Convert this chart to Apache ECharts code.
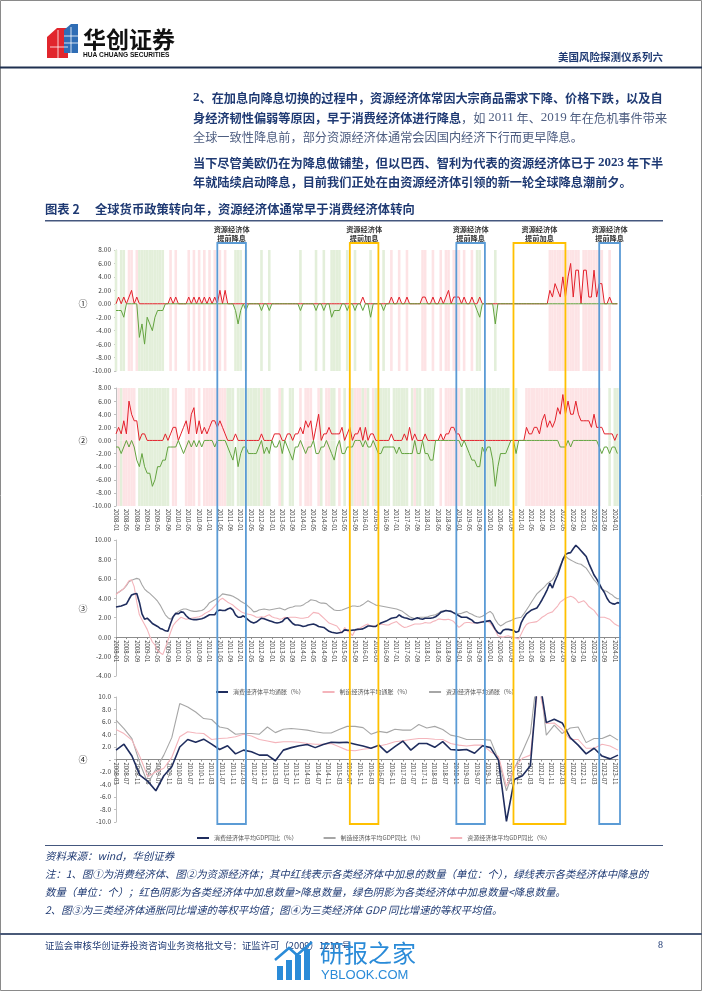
<!DOCTYPE html>
<html><head><meta charset="utf-8">
<script src="https://cdn.jsdelivr.net/npm/echarts@6/dist/echarts.min.js"></script>
<style>html,body{margin:0;padding:0;background:#fff}#c{width:702px;height:991px}</style>
</head><body><div id="c"></div>
<script>
// ---------- categories ----------
function monthSeq(y, m, n) { const out = []; for (let i = 0; i < n; i++) { out.push(y + '-' + String(m).padStart(2, '0')); m++; if (m > 12) { m = 1; y++; } } return out; }
const months = monthSeq(2008, 1, 195);      // 2008-01 .. 2024-03
const gdpMonths = monthSeq(2008, 3, 190);   // 2008-03 .. 2023-12

// ---------- panel ①: consumer economies, number of hikes / cuts ----------
const hikeConsumer = [
0,1,0,1,0,1,2,0,1,0, 0,0,0,0,0,0,0,0,0,0, 0,1,0,1,0,0,0,0,1,0, 1,0,1,0,1,0,1,0,1,0,
2,0,2,0,0,0,0,0,0,0, 0,0,0,0,0,0,0,0,0,0, 0,0,0,0,0,0,0,0,0,0, 0,0,0,0,0,0,0,0,0,0,
0,0,0,0,0,0,0,0,0,0, 0,0,0,0,0,1,0,0,0,0, 0,0,0,0,0,0,1,0,0,1, 0,0,1,0,0,0,0,0,1,1,
0,0,1,0,0,1,0,1,2,0, 1,1,1,0,1,0,0,1,0,0, 1,0,0,0,0,0,0,0,0,0, 0,0,0,0,0,0,0,0,0,0,
0,0,0,0,0,0,0,2,1,3, 2,1,4,1,4,6,1,5,5,0, 5,5,1,1,5,1,3,3,0,0, 1,0,0,0];
const cutConsumer = [
-1,-1,-1,-2,0,0,0,0,0,-5, -3,-6,-2,-3,-4,-2,-1,-1,-1,0, 0,0,0,0,0,0,0,0,0,0, 0,0,0,0,0,0,0,0,0,0,
0,0,0,0,0,0,-1,-3,-1,0, -1,0,0,0,0,0,-1,0,0,-1, 0,0,0,0,0,0,0,0,0,0, 0,-1,0,0,0,0,0,-1,0,0,
-1,0,0,-2,-1,-1,-1,0,0,-1, 0,0,-1,0,0,-1,0,0,-2,0, 0,0,0,-1,0,0,0,0,0,0, 0,0,0,0,0,0,0,0,0,0,
0,0,0,0,0,0,0,0,0,0, 0,0,0,0,0,0,0,0,0,-1, -2,0,0,0,0,0,-3,0,0,0, 0,0,0,0,0,0,0,0,0,0,
0,0,0,0,0,0,0,0,0,0, 0,0,0,0,0,0,0,0,0,0, 0,0,0,0,0,0,0,0,0,0, 0,0,0,0];

// ---------- panel ②: resource economies, number of hikes / cuts ----------
const hikeResource = [
1,2,1,3,1,6,4,3,3,0, 1,1,0,0,0,0,0,0,0,1, 0,1,2,2,0,1,2,3,1,4, 5,1,3,1,2,1,2,3,3,2,
3,2,1,0,0,0,1,0,0,0, 0,0,0,0,0,0,1,0,0,0, 0,1,1,1,0,0,1,1,0,1, 1,2,1,3,2,3,0,2,4,0,
1,1,2,1,1,1,1,2,0,1, 2,0,1,1,2,0,2,0,1,1, 0,0,0,0,0,0,1,0,0,0, 0,1,0,2,0,1,0,0,0,1,
0,0,0,0,0,1,0,1,1,2, 2,1,1,0,0,0,0,0,0,0, 0,0,0,0,0,0,0,0,0,0, 0,0,0,0,0,0,0,0,2,1,
1,2,2,1,3,4,2,3,2,3, 5,4,7,4,6,4,4,6,4,3, 3,3,3,2,4,2,2,2,1,1, 1,1,0,1];
const cutResource = [
-1,-1,-2,-1,0,-1,0,-1,-3,-4, -2,-4,-5,-5,-7,-6,-4,-4,-3,-3, -1,-1,-1,-1,0,-1,-2,-1,0,-1, 0,-1,0,-1,0,0,0,0,-1,0,
0,0,0,-1,-2,-3,-1,-4,-2,-1, -1,-2,-2,-2,-2,-1,0,-2,-1,-2, 0,-1,-1,0,-2,0,-1,-2,-3,-1, -1,0,-1,-2,-1,-1,0,-2,-2,-1,
-1,0,-1,-2,-3,-1,0,-2,-2,-1, -1,-1,0,0,0,-1,0,-1,-1,0, -1,-2,-2,-1,-1,-1,-1,-1,-2,-1, -2,-2,-2,-2,-2,0,-2,-2,0,-2,
-2,-3,-3,0,0,0,0,0,0,0, 0,0,0,-1,0,-1,-2,-3,-3,-4, -4,-1,-2,-1,-1,-3,-7,-4,-2,-2, -2,-1,0,0,-2,0,0,0,0,0,
0,0,0,0,0,0,0,0,0,0, 0,-1,-1,-1,0,-1,0,0,0,0, 0,0,0,0,0,0,-1,-2,-1,-1, -2,-1,-1,-2];

// ---------- panel ③: average inflation (%) ----------
const cpiConsumer = [
3.1,3.15,3.2,3.3,3.4,3.9,4.35,4.45,4.5,3.6, 2.4,1.85,1.95,1.7,1.4,1.25,1.1,0.9,0.8,0.65,
0.6,1.4,2.1,2.45,2.4,2.6,2.55,2.2,1.95,1.85, 1.8,1.8,1.85,1.9,2.0,2.15,2.3,2.3,2.3,2.7,
2.8,2.75,2.75,2.9,3.0,2.8,2.3,2.05,2.05,2.2, 2.0,1.75,1.55,1.45,1.55,1.75,1.95,1.9,1.8,1.7,
1.6,1.5,1.45,1.5,1.6,1.9,2.0,1.7,1.4,1.25, 1.25,1.2,1.1,1.15,1.25,1.3,1.35,1.25,1.1,1.05,
1.0,0.8,0.6,0.5,0.45,0.4,0.45,0.5,0.75,0.72, 0.7,0.72,0.75,0.8,0.82,0.85,1.0,1.15,1.15,1.1,
1.1,1.3,1.45,1.55,1.65,1.8,1.95,2.0,2.05,2.3, 2.1,2.0,1.95,1.85,1.8,1.9,2.0,1.9,1.85,1.95,
1.95,1.95,2.0,2.1,2.3,2.55,2.65,2.75,2.7,2.65, 2.5,2.35,2.2,2.05,2.05,2.05,1.9,1.75,1.5,1.45,
1.5,1.55,1.6,1.65,1.7,1.3,0.8,0.45,0.35,0.7, 0.8,0.8,0.75,0.7,0.5,0.6,1.5,2.0,2.4,2.6,
2.8,2.9,3.0,3.4,3.85,4.35,4.9,5.55,5.05,5.8, 6.4,7.2,8.0,8.5,8.65,8.7,9.1,9.45,9.2,8.9,
8.6,8.3,7.6,7.0,6.4,6.0,5.5,5.0,4.6,4.0, 3.6,3.45,3.4,3.55,3.5];
const cpiManufacturing = [
4.35,4.65,4.8,5.0,5.4,5.8,5.9,5.2,3.6,2.3, 1.8,1.3,0.8,0.1,-0.5,-0.8,-1.4,-1.6,-1.8,-1.1,
-0.3,0.5,1.2,1.55,1.8,2.05,1.95,1.85,1.9,1.95, 2.0,2.05,2.1,2.2,2.4,2.55,2.7,2.9,3.2,3.5,
3.85,4.0,3.8,3.6,3.45,3.3,3.05,2.85,2.65,2.5, 2.4,2.35,2.3,2.2,2.05,2.05,2.1,2.05,2.2,2.3,
2.1,2.0,1.95,1.85,1.9,2.05,2.0,2.05,2.05,2.05, 2.0,1.95,1.95,2.0,2.05,2.3,2.55,2.5,2.45,2.2,
1.95,1.7,1.45,1.35,1.25,1.15,0.8,0.4,1.0,0.6, 0.5,0.15,0.7,0.85,0.95,1.1,1.25,1.35,1.1,1.15,
1.15,1.25,1.35,1.3,1.25,1.25,1.4,1.5,1.6,1.35, 1.15,1.0,1.05,1.15,1.25,1.35,1.35,1.35,1.4,1.5,
1.45,1.45,1.6,1.7,1.85,1.85,1.8,1.8,1.85,1.75, 1.6,1.3,1.0,1.2,1.45,1.5,1.5,1.45,1.45,1.45,
1.5,1.6,1.7,1.6,1.45,1.1,0.7,0.15,0.05,0.0, 0.1,0.15,0.05,0.0,-0.1,-0.2,0.35,0.9,1.3,1.45,
1.5,1.55,1.6,1.8,2.05,2.2,2.4,2.5,2.6,2.9, 3.2,3.6,3.8,4.0,4.1,4.2,4.1,3.9,3.55,3.65,
3.75,3.5,3.15,2.95,2.75,2.4,2.05,2.05,2.05,1.95, 1.85,1.6,1.35,1.2,1.1];
const cpiResource = [
4.5,4.6,4.8,5.0,5.3,5.7,5.85,5.95,6.05,5.95, 5.4,4.95,4.7,4.5,4.25,4.0,3.7,3.3,2.8,2.3,
2.0,1.85,2.1,2.4,2.65,2.8,2.9,2.9,2.8,2.7, 2.65,2.65,2.7,2.75,2.9,3.2,3.55,3.7,3.85,4.0,
4.2,4.45,4.4,4.35,4.3,4.2,4.05,3.9,3.7,3.55, 3.4,3.15,2.9,2.6,2.65,2.8,2.85,2.9,2.85,2.8,
2.85,2.9,2.95,3.0,2.9,2.8,2.95,3.05,3.1,3.2, 3.2,3.2,3.3,3.5,3.65,3.85,3.8,3.75,3.6,3.5,
3.5,3.45,3.2,3.0,2.8,2.75,2.75,2.8,2.9,3.0, 3.1,3.2,3.2,3.15,3.2,3.35,3.55,3.75,3.6,3.45,
3.3,3.25,3.2,3.15,3.1,3.05,3.0,2.95,2.9,2.8, 2.7,2.5,2.3,2.1,2.0,1.9,1.9,2.05,2.05,2.05,
2.1,2.2,2.25,2.3,2.45,2.65,2.7,2.75,2.7,2.65, 2.5,2.4,2.4,2.45,2.55,2.65,2.45,2.35,2.2,2.1,
2.05,2.15,2.3,2.5,2.65,2.4,1.8,1.4,1.15,1.3, 1.5,1.6,1.7,1.85,1.95,2.0,2.05,2.4,2.8,3.2,
3.65,4.05,4.45,4.7,4.95,5.2,5.5,5.7,5.9,6.3, 6.75,7.4,7.9,8.35,8.1,7.95,7.8,7.65,7.55,7.5,
7.3,7.1,6.7,6.3,5.9,5.6,5.2,4.95,4.8,4.7, 4.5,4.35,4.1,3.95,3.95];

// ---------- panel ④: average GDP yoy (%), quarterly 2008Q1..2023Q4 ----------
const gdpConsumer = [
1.5,2.45,0.55,-2.5,-3.5,-5.0,-2.6,-1.15,2.0,3.2, 2.75,3.25,2.45,1.6,2.2,0.9,1.5,1.25,0.7,0.7,
-0.2,1.5,1.9,2.2,2.4,1.9,2.4,2.75,2.7,2.75, 2.45,2.15,1.8,2.3,1.1,2.05,2.95,1.5,2.55,2.55,
1.95,2.85,1.6,1.5,1.6,1.0,2.2,1.9,-0.1,-9.9, -3.2,-2.6,-1.0,14,5.9,6.45,5.85,3.5,2.3,0.9,
1.8,0.55,0.1,0.7];
const gdpManufacturing = [
6.3,4.95,3.35,-0.6,-3.8,-1.55,0.7,3.5,8.95,8.4, 7.6,6.55,6.4,5.2,4.95,4.05,4.15,4.15,4.05,5.2,
4.3,4.85,4.95,4.85,4.7,4.45,4.25,4.25,4.8,5.3, 5.3,5.1,4.05,4.5,4.3,4.85,4.7,4.7,5.6,5.05,
5.3,4.8,3.9,3.65,3.2,3.2,3.2,3.1,0.0,-5.0, -1.4,1.25,4.15,15,3.9,5.5,4.15,5.05,5.2,2.7,
3.35,3.35,3.9,3.1];
const gdpResource = [
4.8,4.15,3.1,0.45,-2.75,-1.95,-1.4,0.35,3.65,4.45, 4.25,4.15,3.2,3.35,3.45,3.65,4.05,3.75,3.2,2.95,
2.7,2.85,2.85,2.75,2.55,2.45,2.45,2.55,2.05,1.5, 1.4,1.65,1.8,2.15,2.45,2.85,3.0,3.2,3.35,3.35,
3.25,3.2,2.55,2.3,2.15,2.3,2.3,1.25,0.5,-4.3, -1.4,0.2,0.7,12,5.75,5.85,4.8,3.2,3.2,1.8,
1.8,2.45,2.15,1.5];

// ---------- highlighted periods ----------
const boxStarts = ['2011-04', '2015-07', '2018-12', '2020-10', '2023-07'];
const boxEnds   = ['2012-03', '2016-06', '2019-11', '2022-06', '2024-03'];
const boxLabels = ['提前降息', '提前加息', '提前降息', '提前加息', '提前降息'];

// ---------- legends ----------
const cpiNames = ['消费经济体平均通胀（%）', '制造经济体平均通胀（%）', '资源经济体平均通胀（%）'];
const gdpNames = ['消费经济体平均GDP同比（%）', '制造经济体平均GDP同比（%）', '资源经济体平均GDP同比（%）'];

// ================= rendering =================
const FONT = '"Noto Sans CJK SC","Noto Sans",sans-serif';
const NAVY_TXT = '#1f3a73';
const RED = '#e3202a', GREEN = '#63a33f', PINK_SH = '#fde3e5', GREEN_SH = '#e3efda';
const C_NAVY = '#1f2d5e', C_PINK = '#f4b4bb', C_GRAY = '#a6a6a6';
const BLUE_BOX = '#5b9bd5', YELLOW_BOX = '#ffc000';
const Y12_MIN = -10, Y12_MAX = 8;
const Y3 = { min: -4, max: 10 }, Y4 = { min: -10, max: 10 };
const GRIDS = [
  { left: 116, top: 250, width: 504, height: 121 },
  { left: 116, top: 388, width: 504, height: 118 },
  { left: 116, top: 540, width: 504, height: 136 },
  { left: 116, top: 697, width: 502, height: 125 }
];
// distance from grid bottom up to the zero line (puts the date labels on the zero line)
const zeroOffset = (grid, y) => -grid.height * (0 - y.min) / (y.max - y.min);

const chart = echarts.init(document.getElementById('c'), null, { width: 702, height: 991 });

function shade(h, c, top) {
  return h.map((v, i) => {
    const d = v + c[i];
    if (d === 0) return '-';
    return { value: top ? Y12_MAX : Y12_MIN, itemStyle: { color: d > 0 ? PINK_SH : GREEN_SH } };
  });
}
const yCommon = {
  type: 'value', splitLine: { show: false },
  axisLine: { show: true, lineStyle: { color: '#bfbfbf' } },
  axisTick: { show: true, length: 2, lineStyle: { color: '#bfbfbf' } },
  axisLabel: { fontSize: 6.5, color: '#404040', margin: 5, fontFamily: FONT }
};
const labelX = { interval: 3, rotate: -90, fontSize: 6, color: '#404040', margin: 3, fontFamily: FONT };

const option = {
  animation: false,
  textStyle: { fontFamily: FONT },
  grid: GRIDS,
  xAxis: [
    { gridIndex: 0, type: 'category', data: months, boundaryGap: false, axisLine: { show: false }, axisTick: { show: false }, axisLabel: { show: false } },
    { gridIndex: 1, type: 'category', data: months, boundaryGap: false, position: 'bottom', axisLine: { show: false, onZero: false }, axisTick: { show: false }, axisLabel: labelX },
    { gridIndex: 2, type: 'category', data: months, boundaryGap: false, offset: zeroOffset(GRIDS[2], Y3), axisLine: { show: true, onZero: false, lineStyle: { color: '#8c8c8c' } }, axisTick: { show: true, interval: 3, length: 2, lineStyle: { color: '#8c8c8c' } }, axisLabel: labelX },
    { gridIndex: 3, type: 'category', data: gdpMonths, boundaryGap: false, offset: zeroOffset(GRIDS[3], Y4), axisLine: { show: true, onZero: false, lineStyle: { color: '#8c8c8c' } }, axisTick: { show: true, interval: 3, length: 2, lineStyle: { color: '#8c8c8c' } }, axisLabel: labelX }
  ],
  yAxis: [
    Object.assign({}, yCommon, { gridIndex: 0, min: Y12_MIN, max: Y12_MAX, interval: 2, axisLabel: Object.assign({}, yCommon.axisLabel, { formatter: v => v.toFixed(2) }) }),
    Object.assign({}, yCommon, { gridIndex: 1, min: Y12_MIN, max: Y12_MAX, interval: 2, axisLabel: Object.assign({}, yCommon.axisLabel, { formatter: v => v.toFixed(2) }) }),
    Object.assign({}, yCommon, { gridIndex: 2, min: Y3.min, max: Y3.max, interval: 2, axisLabel: Object.assign({}, yCommon.axisLabel, { formatter: v => v.toFixed(2) }) }),
    Object.assign({}, yCommon, { gridIndex: 3, min: Y4.min, max: Y4.max, interval: 2, axisLabel: Object.assign({}, yCommon.axisLabel, { formatter: v => v === 0 ? '-' : v.toFixed(1) }) })
  ],
  legend: [
    { data: cpiNames, left: 211, top: 684, icon: 'rect', itemWidth: 12, itemHeight: 2, itemGap: 18, selectedMode: false, textStyle: { fontSize: 6, color: '#595959', fontFamily: FONT } },
    { data: gdpNames, left: 192, top: 830, icon: 'rect', itemWidth: 12, itemHeight: 2, itemGap: 26, selectedMode: false, textStyle: { fontSize: 6, color: '#595959', fontFamily: FONT } }
  ],
  series: [
    { name: 's1t', type: 'bar', xAxisIndex: 0, yAxisIndex: 0, stack: 'sh1', barWidth: '100%', silent: true, z: 1, data: shade(hikeConsumer, cutConsumer, true) },
    { name: 's1b', type: 'bar', xAxisIndex: 0, yAxisIndex: 0, stack: 'sh1', barWidth: '100%', silent: true, z: 1, data: shade(hikeConsumer, cutConsumer, false) },
    { name: '消费加息', type: 'line', xAxisIndex: 0, yAxisIndex: 0, data: hikeConsumer, symbol: 'none', lineStyle: { color: RED, width: 1 }, itemStyle: { color: RED }, z: 3 },
    { name: '消费降息', type: 'line', xAxisIndex: 0, yAxisIndex: 0, data: cutConsumer, symbol: 'none', lineStyle: { color: GREEN, width: 1 }, itemStyle: { color: GREEN }, z: 4 },
    { name: 's2t', type: 'bar', xAxisIndex: 1, yAxisIndex: 1, stack: 'sh2', barWidth: '100%', silent: true, z: 1, data: shade(hikeResource, cutResource, true) },
    { name: 's2b', type: 'bar', xAxisIndex: 1, yAxisIndex: 1, stack: 'sh2', barWidth: '100%', silent: true, z: 1, data: shade(hikeResource, cutResource, false) },
    { name: '资源加息', type: 'line', xAxisIndex: 1, yAxisIndex: 1, data: hikeResource, symbol: 'none', lineStyle: { color: RED, width: 1 }, itemStyle: { color: RED }, z: 3 },
    { name: '资源降息', type: 'line', xAxisIndex: 1, yAxisIndex: 1, data: cutResource, symbol: 'none', lineStyle: { color: GREEN, width: 1 }, itemStyle: { color: GREEN }, z: 4 },
    { name: cpiNames[2], type: 'line', xAxisIndex: 2, yAxisIndex: 2, data: cpiResource, symbol: 'none', lineStyle: { color: C_GRAY, width: 1.1 }, itemStyle: { color: C_GRAY }, z: 3 },
    { name: cpiNames[1], type: 'line', xAxisIndex: 2, yAxisIndex: 2, data: cpiManufacturing, symbol: 'none', lineStyle: { color: C_PINK, width: 1.1 }, itemStyle: { color: C_PINK }, z: 3 },
    { name: cpiNames[0], type: 'line', xAxisIndex: 2, yAxisIndex: 2, data: cpiConsumer, symbol: 'none', lineStyle: { color: C_NAVY, width: 1.6 }, itemStyle: { color: C_NAVY }, z: 4 },
    { name: gdpNames[1], type: 'line', xAxisIndex: 3, yAxisIndex: 3, data: gdpManufacturing.map((v, q) => [gdpMonths[3 * q], v]), symbol: 'none', lineStyle: { color: C_GRAY, width: 1.1 }, itemStyle: { color: C_GRAY }, z: 3 },
    { name: gdpNames[2], type: 'line', xAxisIndex: 3, yAxisIndex: 3, data: gdpResource.map((v, q) => [gdpMonths[3 * q], v]), symbol: 'none', lineStyle: { color: C_PINK, width: 1.1 }, itemStyle: { color: C_PINK }, z: 3 },
    { name: gdpNames[0], type: 'line', xAxisIndex: 3, yAxisIndex: 3, data: gdpConsumer.map((v, q) => [gdpMonths[3 * q], v]), symbol: 'none', lineStyle: { color: C_NAVY, width: 1.6 }, itemStyle: { color: C_NAVY }, z: 4 }
  ]
};
chart.setOption(option);

// ---------- page graphics ----------
function txt(x, y, text, o) {
  o = o || {};
  return { type: 'text', x: x, y: y, silent: true, z: o.z || 10, style: Object.assign({ text: text, fontFamily: FONT, fontSize: 12, fill: NAVY_TXT, align: 'left', verticalAlign: 'middle' }, o.style || {}) };
}
const richBody = {
  b: { fontFamily: FONT, fontSize: 12.2, fontWeight: 'bold', fill: NAVY_TXT },
  bd: { fontFamily: '"Liberation Serif",serif', fontSize: 13, fontWeight: 'bold', fill: NAVY_TXT },
  n: { fontFamily: FONT, fontSize: 12.2, fill: '#4d5d80' },
  nd: { fontFamily: '"Liberation Serif",serif', fontSize: 13, fill: '#4d5d80' }
};
function rich(x, y, text) { return { type: 'text', x: x, y: y, silent: true, z: 10, style: { text: text, rich: richBody, verticalAlign: 'middle', align: 'left' } }; }

const g = [
  { type: 'rect', silent: true, shape: { x: 0.5, y: 0.5, width: 701, height: 990 }, style: { fill: 'none', stroke: '#8a8a8a', lineWidth: 1 } },
  // logo
  { type: 'polygon', silent: true, shape: { points: [[47, 37], [57, 28], [68, 28], [68, 58], [47, 58]] }, style: { fill: '#e1262d' } },
  { type: 'polygon', silent: true, shape: { points: [[64, 30], [71, 24], [78, 24], [78, 53], [64, 53]] }, style: { fill: '#2f6db5' } },
  { type: 'polyline', silent: true, shape: { points: [[64, 36], [78, 36]] }, style: { stroke: '#fff', lineWidth: 0.8 } },
  { type: 'polyline', silent: true, shape: { points: [[64, 43], [78, 43]] }, style: { stroke: '#fff', lineWidth: 0.8 } },
  { type: 'polyline', silent: true, shape: { points: [[71, 27], [71, 53]] }, style: { stroke: '#fff', lineWidth: 0.8 } },
  { type: 'polyline', silent: true, shape: { points: [[50, 47], [68, 47]] }, style: { stroke: '#fff', lineWidth: 0.8 } },
  { type: 'polyline', silent: true, shape: { points: [[58, 30], [58, 58]] }, style: { stroke: '#fff', lineWidth: 0.8 } },
  txt(83, 39, '华创证券', { style: { fontSize: 23, fontWeight: 'bold', fill: '#111' } }),
  txt(83, 55, 'HUA CHUANG SECURITIES', { style: { fontSize: 6.6, fontWeight: 'bold', fill: '#111', fontFamily: '"Liberation Sans",sans-serif' } }),
  txt(663, 57, '美国风险探测仪系列六', { style: { fontSize: 10.5, fontWeight: 'bold', align: 'right' } }),
  { type: 'rect', silent: true, shape: { x: 0, y: 66.5, width: 702, height: 2 }, style: { fill: '#1f3050' } },
  // body text
  rich(193, 98, '{bd|2}{b|、在加息向降息切换的过程中，资源经济体常因大宗商品需求下降、价格下跌，以及自}'),
  rich(193, 118, '{b|身经济韧性偏弱等原因，早于消费经济体进行降息}{n|，如 }{nd|2011}{n| 年、}{nd|2019}{n| 年在危机事件带来}'),
  rich(193, 137, '{n|全球一致性降息前，部分资源经济体通常会因国内经济下行而更早降息。}'),
  rich(193, 163, '{b|当下尽管美欧仍在为降息做铺垫，但以巴西、智利为代表的资源经济体已于 }{bd|2023}{b| 年下半}'),
  rich(193, 182, '{b|年就陆续启动降息，目前我们正处在由资源经济体引领的新一轮全球降息潮前夕。}'),
  // figure title
  txt(45, 209, '图表 2', { style: { fontSize: 12.3, fontWeight: 'bold' } }),
  txt(95, 209, '全球货币政策转向年，资源经济体通常早于消费经济体转向', { style: { fontSize: 12.3, fontWeight: 'bold' } }),
  { type: 'rect', silent: true, shape: { x: 45, y: 220, width: 618, height: 1.5 }, style: { fill: '#44577e' } },
  // circled panel numbers
  txt(83, 304, '①', { style: { fontSize: 9, fill: '#222', align: 'center' } }),
  txt(83, 441, '②', { style: { fontSize: 9, fill: '#222', align: 'center' } }),
  txt(83, 609, '③', { style: { fontSize: 9, fill: '#222', align: 'center' } }),
  txt(83, 760, '④', { style: { fontSize: 9, fill: '#222', align: 'center' } }),
  // notes
  { type: 'rect', silent: true, shape: { x: 45, y: 845, width: 618, height: 1 }, style: { fill: '#44577e' } },
  txt(45, 856, '资料来源：wind，华创证券', { style: { fontSize: 10.5, fontStyle: 'italic' } }),
  txt(45, 874, '注：1、图①为消费经济体、图②为资源经济体；其中红线表示各类经济体中加息的数量（单位：个），绿线表示各类经济体中降息的', { style: { fontSize: 10.4, fontStyle: 'italic' } }),
  txt(45, 892, '数量（单位：个）；红色阴影为各类经济体中加息数量>降息数量，绿色阴影为各类经济体中加息数量<降息数量。', { style: { fontSize: 10.4, fontStyle: 'italic' } }),
  txt(45, 910, '2、图③为三类经济体通胀同比增速的等权平均值；图④为三类经济体 GDP 同比增速的等权平均值。', { style: { fontSize: 10.4, fontStyle: 'italic' } }),
  // footer
  { type: 'rect', silent: true, shape: { x: 0, y: 933, width: 702, height: 2 }, style: { fill: '#4a5a78' } },
  txt(45, 945, '证监会审核华创证券投资咨询业务资格批文号：证监许可（2009）1210 号', { style: { fontSize: 9.4 } }),
  txt(663, 945, '8', { style: { fontSize: 10, align: 'right', fontFamily: '"Liberation Serif",serif' } }),
  // watermark
  { type: 'rect', silent: true, z: 20, shape: { x: 277, y: 966, width: 6, height: 14 }, style: { fill: '#2a8bd8' } },
  { type: 'rect', silent: true, z: 20, shape: { x: 286, y: 960, width: 6, height: 20 }, style: { fill: '#2a8bd8' } },
  { type: 'rect', silent: true, z: 20, shape: { x: 295, y: 955, width: 6, height: 25 }, style: { fill: '#2a8bd8' } },
  { type: 'rect', silent: true, z: 20, shape: { x: 304, y: 949, width: 6, height: 31 }, style: { fill: '#2a8bd8' } },
  { type: 'polyline', silent: true, z: 20, shape: { points: [[275, 960], [289, 948], [297, 955], [312, 942]] }, style: { stroke: '#2a8bd8', lineWidth: 2.5 } },
  txt(320, 953, '研报之家', { z: 20, style: { fontSize: 24, fill: '#2a8bd8' } }),
  txt(321, 975, 'YBLOOK.COM', { z: 20, style: { fontSize: 13, fill: '#2a8bd8', fontFamily: '"Liberation Sans",sans-serif' } })
];

// highlighted period boxes, positioned through the monthly axis
const BOX_TOP = 243, BOX_BOTTOM = 824;
boxStarts.forEach((s, i) => {
  const x0 = chart.convertToPixel({ xAxisIndex: 0 }, months.indexOf(s));
  const x1 = chart.convertToPixel({ xAxisIndex: 0 }, months.indexOf(boxEnds[i]));
  const col = boxLabels[i] === '提前降息' ? BLUE_BOX : YELLOW_BOX;
  g.push({ type: 'rect', silent: true, z: 50, shape: { x: x0, y: BOX_TOP, width: x1 - x0, height: BOX_BOTTOM - BOX_TOP }, style: { fill: 'none', stroke: col, lineWidth: 1.8 } });
  g.push(txt((x0 + x1) / 2, 229, '资源经济体', { style: { fontSize: 7.2, fontWeight: 'bold', fill: '#333', align: 'center' } }));
  g.push(txt((x0 + x1) / 2, 238, boxLabels[i], { style: { fontSize: 7.2, fontWeight: 'bold', fill: '#333', align: 'center' } }));
});
chart.setOption({ graphic: g });
</script></body></html>
